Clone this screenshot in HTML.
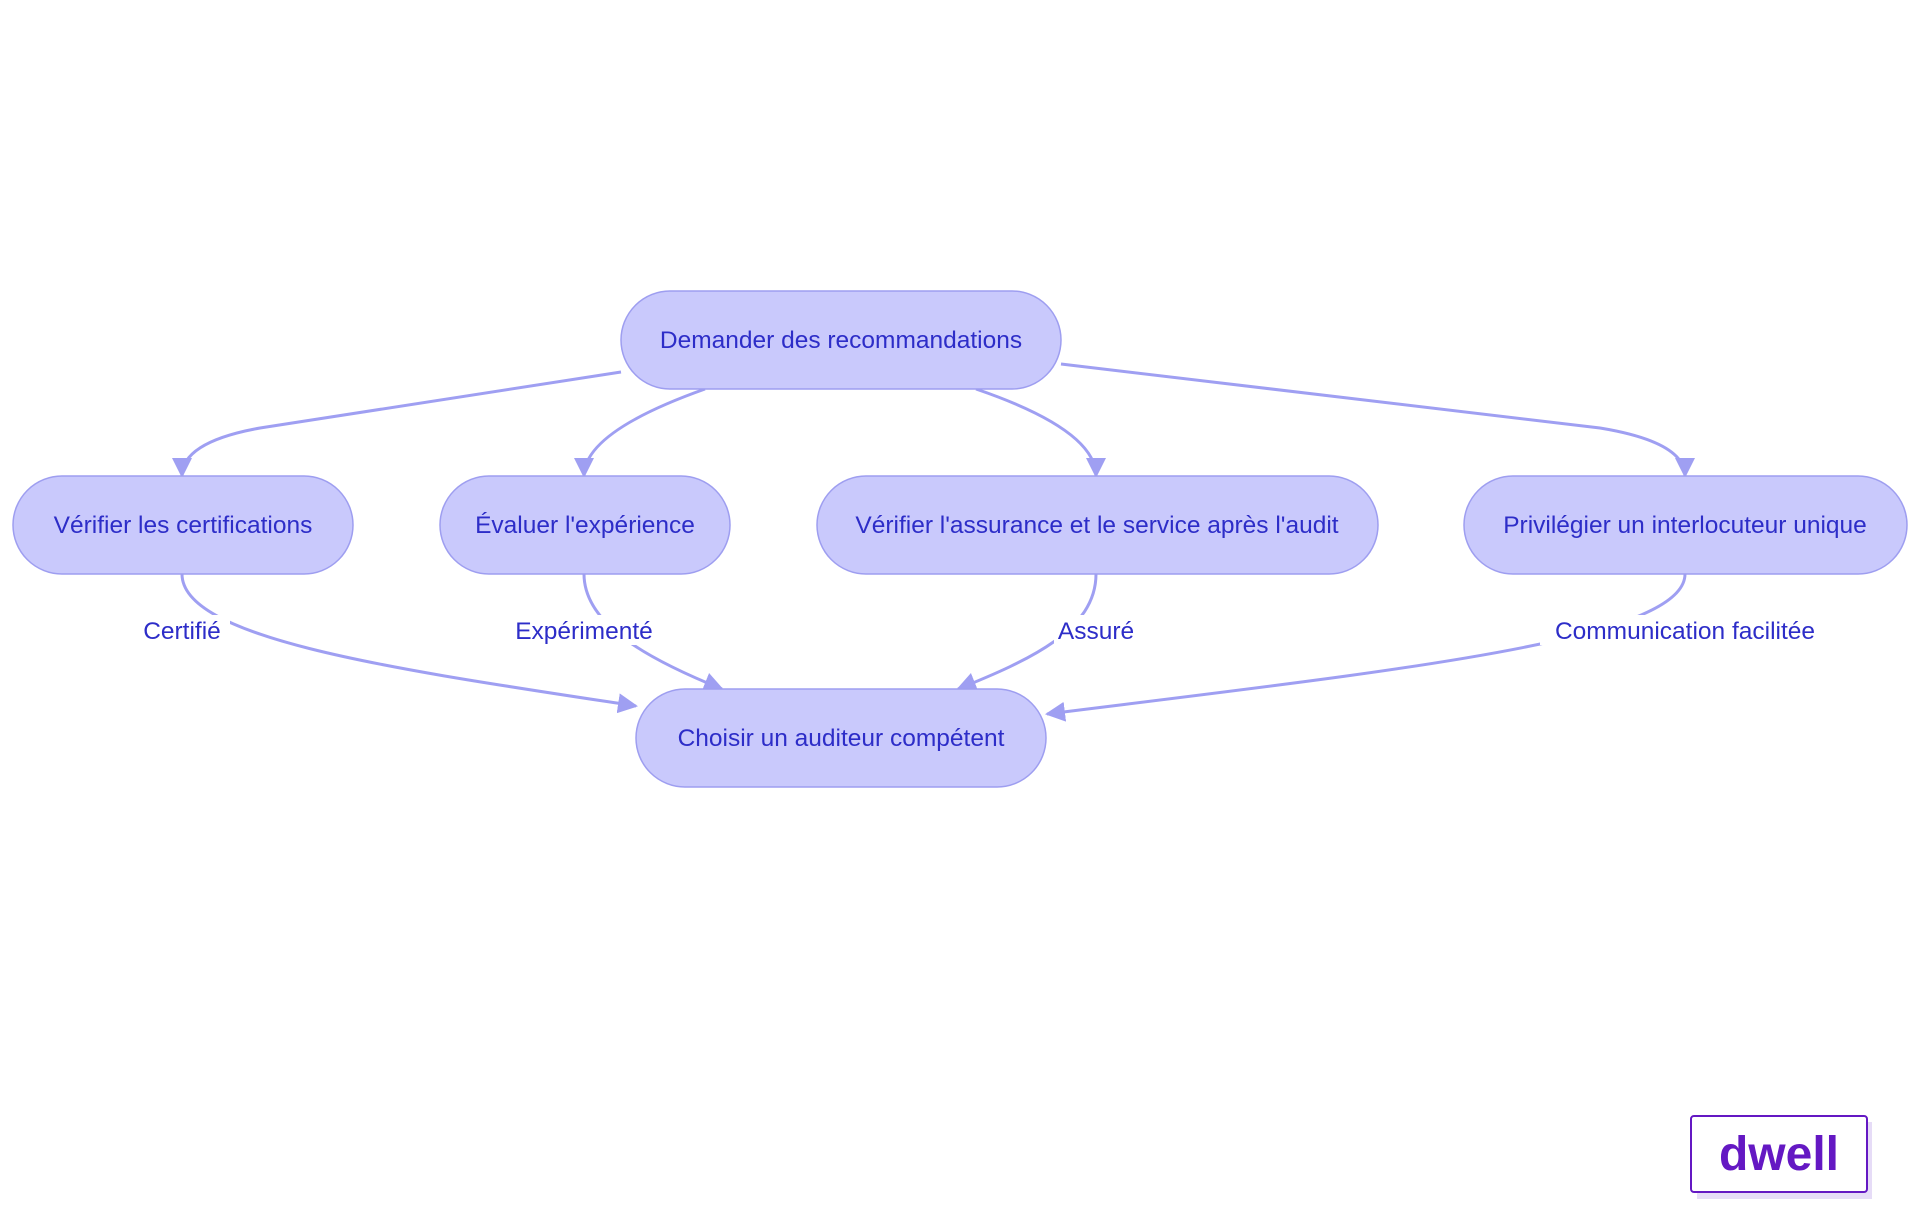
<!DOCTYPE html>
<html><head><meta charset="utf-8"><style>
html,body{margin:0;padding:0;background:#fff;width:1920px;height:1215px;overflow:hidden;font-family:"Liberation Sans",sans-serif}
</style></head><body>
<svg width="1920" height="1215" viewBox="0 0 1920 1215" xmlns="http://www.w3.org/2000/svg">
<defs>
<marker id="ar" viewBox="0 0 10 10" refX="9" refY="5" markerWidth="20" markerHeight="20" markerUnits="userSpaceOnUse" orient="auto"><path d="M0,0 L10,5 L0,10 z" fill="#9f9ff2"/></marker>
</defs>
<g fill="none" stroke="#9f9ff2" stroke-width="3" marker-end="url(#ar)">
<path d="M621,372 L260,428 Q182,442 182,476"/>
<path d="M705,389 Q584,432 584,476"/>
<path d="M976,389 Q1096,430 1096,476"/>
<path d="M1061,364 L1600,428 Q1685,442 1685,476"/>
<path d="M182,574 C182,640 400,670 636,706"/>
<path d="M584,574 C584,625 650,660 722,689"/>
<path d="M1096,574 C1096,630 1030,660 958,689"/>
<path d="M1685,574 C1685,640 1400,670 1047,714"/>
</g>
<g fill="#fff">
<rect x="134" y="615" width="96" height="30"/>
<rect x="504" y="615" width="160" height="30"/>
<rect x="1054" y="615" width="86" height="30"/>
<rect x="1540" y="615" width="290" height="30"/>
</g>
<g fill="#c9c9fc" stroke="#9e9ef0" stroke-width="1.5">
<rect x="621" y="291" width="440" height="98" rx="49"/>
<rect x="13" y="476" width="340" height="98" rx="49"/>
<rect x="440" y="476" width="290" height="98" rx="49"/>
<rect x="817" y="476" width="561" height="98" rx="49"/>
<rect x="1464" y="476" width="443" height="98" rx="49"/>
<rect x="636" y="689" width="410" height="98" rx="49"/>
</g>
<g fill="#2d2dc8" font-size="24.5" text-anchor="middle" font-family="Liberation Sans, sans-serif">
<text x="841" y="348">Demander des recommandations</text>
<text x="183" y="533">Vérifier les certifications</text>
<text x="585" y="533">Évaluer l'expérience</text>
<text x="1097" y="533">Vérifier l'assurance et le service après l'audit</text>
<text x="1685" y="533">Privilégier un interlocuteur unique</text>
<text x="841" y="746">Choisir un auditeur compétent</text>
<text x="182" y="639">Certifié</text>
<text x="584" y="639">Expérimenté</text>
<text x="1096" y="639">Assuré</text>
<text x="1685" y="639">Communication facilitée</text>
</g>
<rect x="1697" y="1122" width="175" height="77" fill="#e6dcf7"/>
<rect x="1691" y="1116" width="176" height="76" rx="3" fill="#fff" stroke="#6418c3" stroke-width="2"/>
<text x="1779" y="1170" text-anchor="middle" font-size="48" font-weight="bold" fill="#6418c3" font-family="Liberation Sans, sans-serif">dwell</text>
</svg>
</body></html>
